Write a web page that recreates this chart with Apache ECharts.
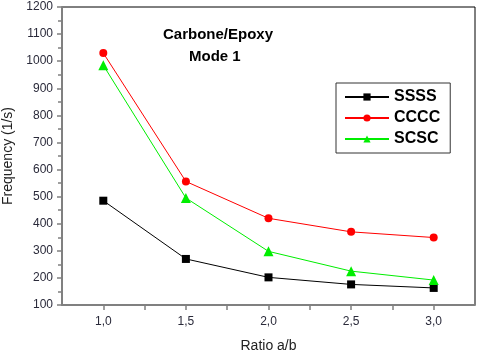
<!DOCTYPE html>
<html>
<head>
<meta charset="utf-8">
<script src="https://cdn.jsdelivr.net/npm/echarts@6/dist/echarts.min.js"></script>
<style>
  html, body { margin: 0; padding: 0; background: #fff; }
  #chart { width: 480px; height: 354px; }
</style>
</head>
<body>
<div id="chart"></div>
<script>
var ratios = [1.0, 1.5, 2.0, 2.5, 3.0];
var ssss = [485, 270, 202, 176, 163];
var cccc = [1030, 556, 420, 370, 349];
var scsc = [985, 495, 298, 225, 192];

function pairs(vals) {
    var out = [];
    for (var i in ratios) {
        out.push([ratios[i], vals[i]]);
    }
    return out;
}

var font = 'Arial, "Liberation Sans", sans-serif';

var chart = echarts.init(document.getElementById('chart'));

// style commun pour les séries
function serie(name, vals, color, symbol, size) {
    return {
        name: name,
        type: 'line',
        data: pairs(vals),
        symbol: symbol,
        symbolSize: size,
        itemStyle: { color: color },
        lineStyle: { color: color, width: 1 },
        emphasis: { disabled: true }
    };
}

chart.setOption({
    animation: false,
    backgroundColor: '#fff',
    grid: {
        left: 62, top: 7, right: 5, bottom: 49,
        outerBoundsMode: 'none',
        containLabel: false,
        show: true, borderColor: '#000', borderWidth: 1
    },
    graphic: [
        { type: 'text', left: 163, top: 27, style: { text: 'Carbone/Epoxy', font: 'bold 15px ' + font, fill: '#000' } },
        { type: 'text', left: 189, top: 49, style: { text: 'Mode 1', font: 'bold 15px ' + font, fill: '#000' } }
    ],
    legend: {
        orient: 'vertical',
        left: 336, top: 83,
        borderColor: '#333', borderWidth: 1,
        padding: [6, 10, 6, 8],
        itemGap: 5,
        itemWidth: 44, itemHeight: 9,
        textStyle: { fontFamily: font, fontWeight: 'bold', fontSize: 16, color: '#000' },
        data: ['SSSS', 'CCCC', 'SCSC']
    },
    xAxis: {
        type: 'value',
        min: 0.75, max: 3.25, interval: 0.25,
        name: 'Ratio a/b',
        nameLocation: 'middle',
        nameGap: 34,
        nameTextStyle: { fontFamily: font, fontSize: 14, color: '#222' },
        axisLine: { lineStyle: { color: '#808080', width: 2 } },
        axisTick: { show: true, length: 5, inside: false, lineStyle: { color: '#808080', width: 1.5 } },
        axisLabel: {
            fontFamily: font, fontSize: 12, color: '#2a2a3a', margin: 11,
            showMinLabel: false, showMaxLabel: false,
            formatter: function (v) {
                if (Math.abs(v * 2 - Math.round(v * 2)) > 0.01) return '';
                return v.toFixed(1).replace('.', ',');
            }
        },
        splitLine: { show: false }
    },
    yAxis: {
        type: 'value',
        min: 100, max: 1200, interval: 100,
        name: 'Frequency (1/s)',
        nameLocation: 'middle',
        nameGap: 46,
        nameTextStyle: { fontFamily: font, fontSize: 14, color: '#222' },
        axisLine: { show: true, lineStyle: { color: '#808080', width: 2 } },
        axisTick: { show: true, length: 5, lineStyle: { color: '#808080', width: 1.5 } },
        minorTick: { show: true, splitNumber: 2, length: 4, lineStyle: { color: '#808080', width: 1.5 } },
        axisLabel: {
            fontFamily: font, fontSize: 12, color: '#2a2a3a', margin: 9,
            formatter: function (v) { return String(v); }
        },
        splitLine: { show: false }
    },
    series: [
        serie('SSSS', ssss, '#000000', 'rect', 8),
        serie('CCCC', cccc, '#ff0000', 'circle', 8),
        serie('SCSC', scsc, '#00ee00', 'triangle', 10)
    ]
});
</script>
</body>
</html>
